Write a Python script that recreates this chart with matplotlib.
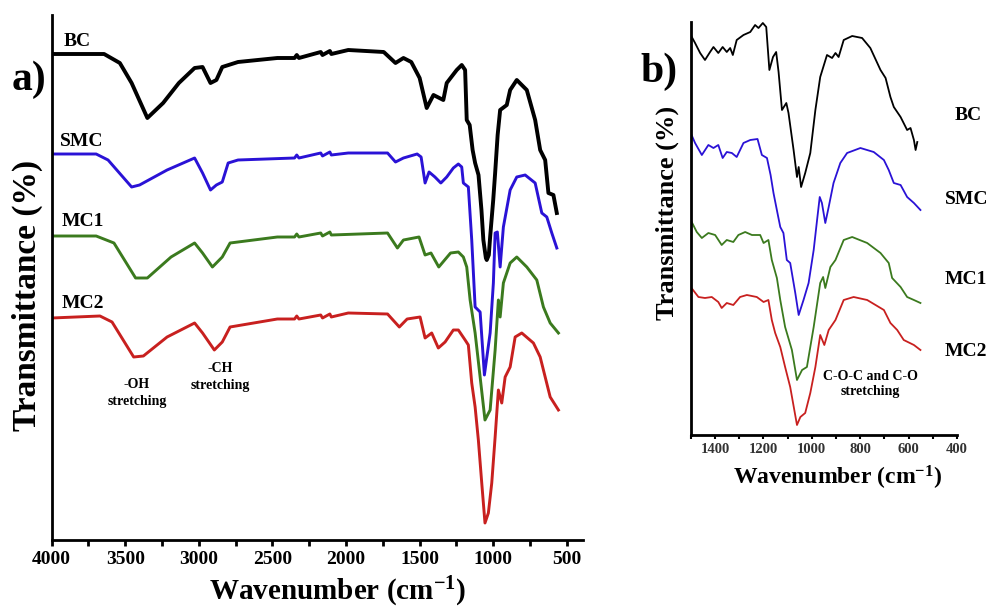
import matplotlib
matplotlib.use("Agg")
import matplotlib.pyplot as plt
from matplotlib.ticker import MultipleLocator

plt.rcParams['font.family'] = ['Liberation Serif', 'DejaVu Serif']
plt.rcParams['mathtext.fontset'] = 'custom'
plt.rcParams['mathtext.rm'] = 'Liberation Serif:bold'
plt.rcParams['mathtext.it'] = 'Liberation Serif:bold'
plt.rcParams['mathtext.bf'] = 'Liberation Serif:bold'

# ---------------- Panel a: full spectra (offset transmittance, arb. units) ----------------
bc_a_wn = [4000, 3644, 3537, 3457, 3350, 3243, 3136, 3029, 2975, 2921, 2881, 2841, 2734, 2467,
           2350, 2335, 2320, 2172, 2160, 2110, 2100, 1985, 1744, 1664, 1610, 1557, 1500, 1452,
           1406, 1339, 1316, 1248, 1214, 1191, 1180, 1160, 1140, 1123, 1100, 1080, 1067, 1050,
           1044, 1030, 1021, 1000, 987, 970, 953, 908, 885, 840, 772, 715, 681, 647, 625, 591, 568]
bc_a_t = [486, 486, 477, 457, 422, 437, 457, 472, 473, 457, 460, 473, 478, 482,
          482, 485, 482, 488, 485, 489, 486, 490, 488, 477, 482, 478, 462, 432,
          445, 440, 457, 470, 475, 470, 420, 415, 390, 377, 365, 330, 300, 282,
          280, 285, 303, 340, 367, 405, 430, 435, 450, 460, 450, 420, 390, 380, 347, 345, 327]

smc_a_wn = [4000, 3698, 3617, 3457, 3403, 3216, 3029, 2975, 2921, 2881, 2841, 2801, 2734, 2350,
            2335, 2320, 2172, 2160, 2110, 2100, 1985, 1718, 1664, 1610, 1517, 1490, 1463, 1436,
            1396, 1356, 1316, 1271, 1237, 1214, 1203, 1169, 1146, 1123, 1089, 1060, 1021, 999,
            987, 972, 953, 931, 885, 840, 783, 715, 670, 636, 602, 568]
smc_a_t = [386, 386, 380, 353, 355, 370, 382, 367, 350, 355, 358, 377, 380, 382,
           385, 382, 387, 384, 388, 385, 387, 387, 378, 382, 386, 383, 357, 368,
           363, 357, 363, 372, 376, 373, 357, 353, 300, 233, 228, 165, 207, 257,
           307, 308, 273, 313, 350, 363, 365, 357, 327, 323, 307, 292]

mc1_a_wn = [4000, 3698, 3577, 3430, 3350, 3189, 3029, 2975, 2908, 2841, 2788, 2467, 2350, 2335,
            2320, 2172, 2160, 2110, 2100, 1718, 1651, 1610, 1504, 1463, 1423, 1370, 1330, 1290,
            1237, 1203, 1180, 1157, 1123, 1089, 1056, 1021, 987, 965, 953, 931, 885, 840, 772,
            704, 659, 613, 557]
mc1_a_t = [304, 304, 297, 262, 262, 283, 297, 287, 273, 283, 297, 303, 303, 306,
           303, 307, 304, 308, 305, 307, 292, 300, 303, 285, 287, 273, 280, 287,
           288, 283, 273, 240, 207, 163, 120, 130, 190, 240, 223, 257, 277, 283, 273,
           260, 233, 217, 207]

mc2_a_wn = [4000, 3672, 3590, 3443, 3377, 3216, 3029, 2975, 2895, 2841, 2788, 2467, 2350, 2335,
            2320, 2172, 2160, 2110, 2100, 1985, 1718, 1638, 1585, 1497, 1463, 1418, 1373, 1327,
            1271, 1237, 1191, 1169, 1146, 1123, 1101, 1078, 1056, 1033, 1010, 987, 965, 942,
            919, 885, 851, 806, 727, 681, 647, 613, 557]
mc2_a_t = [222, 224, 218, 183, 184, 203, 217, 207, 190, 198, 213, 221, 221, 224,
           221, 225, 222, 226, 223, 227, 226, 213, 221, 223, 202, 207, 192, 198,
           210, 210, 200, 195, 157, 133, 100, 57, 17, 27, 57, 103, 150, 137,
           163, 173, 203, 207, 197, 183, 163, 143, 130]

# ---------------- Panel b: fingerprint region ----------------
bc_b_wn = [1500, 1482, 1461, 1441, 1420, 1406, 1386, 1368, 1351, 1337, 1326, 1310, 1282, 1254,
           1234, 1220, 1202, 1188, 1175, 1160, 1147, 1137, 1123, 1105, 1096, 1075, 1061, 1054,
           1044, 1027, 1006, 985, 965, 937, 916, 902, 889, 868, 833, 792, 758, 716, 695, 675,
           661, 633, 606, 592, 578, 571, 564]
bc_b_t = [400, 392, 382, 375, 383, 388, 382, 388, 383, 387, 380, 395, 400, 403,
          410, 407, 412, 408, 365, 378, 383, 363, 325, 332, 322, 285, 258, 268,
          248, 262, 282, 325, 358, 380, 377, 382, 378, 395, 399, 397, 387, 365, 357, 338,
          328, 318, 305, 307, 295, 285, 293]

smc_b_wn = [1500, 1482, 1454, 1427, 1406, 1386, 1368, 1351, 1330, 1310, 1282, 1254, 1224, 1206,
            1185, 1170, 1158, 1140, 1130, 1117, 1103, 1089, 1068, 1054, 1034, 1013, 992, 978,
            967, 958, 944, 930, 910, 882, 854, 799, 744, 702, 682, 661, 633, 606, 578, 551]
smc_b_t = [302, 292, 280, 290, 287, 290, 277, 283, 282, 278, 292, 295, 296, 280,
           277, 260, 242, 220, 208, 202, 175, 172, 142, 120, 135, 152, 185, 215,
           238, 232, 212, 228, 252, 272, 282, 287, 283, 275, 265, 252, 250, 238, 232, 225]

mc1_b_wn = [1500, 1475, 1454, 1427, 1399, 1372, 1351, 1324, 1303, 1275, 1247, 1213, 1199, 1179,
            1165, 1144, 1130, 1110, 1082, 1061, 1040, 1020, 992, 965, 953, 944, 923, 902, 868,
            833, 771, 716, 682, 668, 633, 606, 578, 551]
mc1_b_t = [215, 203, 197, 202, 200, 190, 195, 193, 200, 203, 200, 200, 192, 195,
           175, 157, 135, 108, 85, 55, 65, 68, 108, 152, 158, 147, 168, 175, 195,
           198, 192, 182, 172, 157, 148, 138, 135, 132]

mc2_b_wn = [1500, 1468, 1441, 1413, 1386, 1372, 1351, 1324, 1296, 1268, 1227, 1199, 1179, 1165,
            1151, 1130, 1110, 1089, 1061, 1047, 1027, 1006, 985, 965, 948, 930, 902, 868, 827,
            771, 702, 675, 647, 620, 578, 551]
mc2_b_t = [148, 138, 137, 138, 133, 127, 132, 130, 138, 140, 138, 133, 135, 115,
           102, 88, 68, 48, 10, 18, 22, 42, 68, 100, 90, 105, 115, 135, 138,
           135, 125, 112, 105, 95, 90, 85]

series_names = ['BC', 'SMC', 'MC1', 'MC2']
series_colors = ['#000000', '#2a12d6', '#3b7a1e', '#c8201f']

xticks_a = [4000, 3500, 3000, 2500, 2000, 1500, 1000, 500]
xticks_b = [1400, 1200, 1000, 800, 600, 400]

W, H = 992, 608
fig = plt.figure(figsize=(W / 100, H / 100), dpi=100)


def fx(px):
    return px / W


def fy(py):
    return 1 - py / H


# ---- panel a ----
axa = fig.add_axes([fx(51.7), fy(540), fx(583) - fx(51.7), fy(15) - fy(540)])
data_a = [(bc_a_wn, bc_a_t), (smc_a_wn, smc_a_t), (mc1_a_wn, mc1_a_t), (mc2_a_wn, mc2_a_t)]
lws_a = [2.8, 2.1, 2.1, 2.1]
for (wn, t), c, lw in zip(data_a, series_colors, lws_a):
    axa.plot(wn, t, color=c, lw=lw, solid_joinstyle='round')
axa.set_xlim(4000, 390)
axa.set_ylim(0, 525)
axa.set_xticks(xticks_a)
axa.set_xticklabels([str(v) for v in xticks_a])
axa.xaxis.set_minor_locator(MultipleLocator(250))
axa.tick_params(axis='x', which='both', direction='out', length=4, width=2, pad=4)
axa.tick_params(axis='x', labelsize=14)
axa.set_yticks([])
for lab in axa.get_xticklabels():
    lab.set_fontweight('bold')
for s in ['top', 'right']:
    axa.spines[s].set_visible(False)
for s in ['left', 'bottom']:
    axa.spines[s].set_linewidth(2)

# ---- panel b ----
axb = fig.add_axes([fx(690.7), fy(435), fx(957) - fx(690.7), fy(22) - fy(435)])
data_b = [(bc_b_wn, bc_b_t), (smc_b_wn, smc_b_t), (mc1_b_wn, mc1_b_t), (mc2_b_wn, mc2_b_t)]
for (wn, t), c in zip(data_b, series_colors):
    axb.plot(wn, t, color=c, lw=1.3)
axb.set_xlim(1500, 400)
axb.set_ylim(0, 413)
axb.set_xticks(xticks_b)
axb.set_xticklabels([str(v) for v in xticks_b])
axb.xaxis.set_minor_locator(MultipleLocator(100))
axb.tick_params(axis='x', which='both', direction='out', length=3, width=1.5, pad=3,
                labelsize=10.5, labelcolor='#333333')
axb.set_yticks([])
for lab in axb.get_xticklabels():
    lab.set_fontweight('bold')
for s in ['top', 'right']:
    axb.spines[s].set_visible(False)
for s in ['left', 'bottom']:
    axb.spines[s].set_linewidth(2)

# ---- texts ----
bold = dict(fontweight='bold', color='black')
fig.text(fx(12), fy(80), 'a)', fontsize=30, ha='left', va='center', **bold)
fig.text(fx(640), fy(72), 'b)', fontsize=30, ha='left', va='center', **bold)

fig.text(fx(27), fy(295), 'Transmittance (%)', rotation=90, fontsize=24,
         ha='center', va='center', **bold)
fig.text(fx(667), fy(213), 'Transmittance (%)', rotation=90, fontsize=19,
         ha='center', va='center', **bold)

fig.text(fx(338), fy(592), 'Wavenumber (cm$^{-1}$)', fontsize=21, ha='center', va='center', **bold)
fig.text(fx(838), fy(478), 'Wavenumber (cm$^{-1}$)', fontsize=17, ha='center', va='center', **bold)

label_pos_a = [(64, 42), (60, 141), (62, 221), (62, 304)]
for name, (x, y) in zip(series_names, label_pos_a):
    fig.text(fx(x), fy(y), name, fontsize=14, ha='left', va='center', **bold)

label_pos_b = [(955, 115), (945, 200), (945, 280), (945, 352)]
for name, (x, y) in zip(series_names, label_pos_b):
    fig.text(fx(x), fy(y), name, fontsize=14, ha='left', va='center', **bold)

fig.text(fx(137), fy(393), '-OH\nstretching', fontsize=10, ha='center', va='center',
         linespacing=1.3, **bold)
fig.text(fx(220), fy(377), '-CH\nstretching', fontsize=10, ha='center', va='center',
         linespacing=1.3, **bold)
fig.text(fx(870), fy(384), 'C-O-C and C-O\nstretching', fontsize=10, ha='center', va='center',
         linespacing=1.3, **bold)

fig.savefig('out.png', dpi=100)
